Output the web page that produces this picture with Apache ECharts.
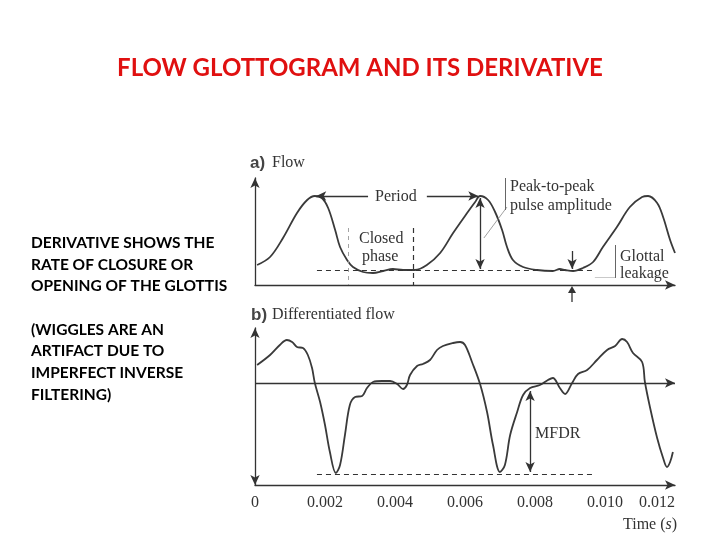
<!DOCTYPE html>
<html>
<head>
<meta charset="utf-8">
<script src="https://cdn.jsdelivr.net/npm/echarts@6/dist/echarts.min.js"></script>
<style>html,body{margin:0;padding:0;background:#fff;}#c{width:720px;height:540px;}</style>
</head>
<body>
<div id="c"></div>
<script>
// ---- data (time in seconds, amplitudes in arbitrary units) ----
const flowTime = [0.00006,0.00043,0.00080,0.00120,0.00149,0.00171,0.00191,0.00209,0.00229,0.00243,0.00263,0.00280,0.00309,0.00337,0.00366,0.00394,0.00423,0.00457,0.00491,0.00529,0.00566,0.00606,0.00629,0.00643,0.00666,0.00686,0.00706,0.00720,0.00737,0.00766,0.00806,0.00851,0.00871,0.00886,0.00909,0.00937,0.00966,0.00994,0.01034,0.01071,0.01106,0.01123,0.01149,0.01166,0.01186,0.01200];
const flowValue = [20,28,47,72,85,89,87,77,55,38,25,18,13,12,14,16,15,15,20,32,52,72,83,89,85,73,55,38,25,18,15,14,16,15,14,17,23,38,58,78,88,89,82,68,45,32];

const diffTime = [0.00006,0.00043,0.00071,0.00091,0.00106,0.00120,0.00137,0.00151,0.00163,0.00171,0.00186,0.00200,0.00214,0.00231,0.00243,0.00257,0.00271,0.00286,0.00306,0.00320,0.00337,0.00363,0.00386,0.00406,0.00423,0.00434,0.00443,0.00463,0.00480,0.00500,0.00520,0.00537,0.00566,0.00586,0.00600,0.00620,0.00643,0.00663,0.00680,0.00700,0.00714,0.00729,0.00749,0.00766,0.00786,0.00814,0.00837,0.00851,0.00871,0.00886,0.00906,0.00923,0.00949,0.00977,0.01006,0.01029,0.01049,0.01063,0.01080,0.01106,0.01114,0.01129,0.01149,0.01166,0.01177,0.01186,0.01194];
const diffValue = [18,28,38,43,41,36,35,28,15,0,-19,-42,-69,-90,-82,-52,-22,-14,-13,-5,1,2,2,-1,-6,-2,8,17,19,23,33,37,40,41,38,21,-1,-29,-62,-89,-82,-52,-29,-12,-5,-2,3,5,-5,-11,0,9,13,23,33,37,44,41,30,21,1,-25,-55,-75,-84,-79,-69];

const timeTicks = [0, 0.002, 0.004, 0.006, 0.008, 0.010, 0.012];

const flowPts = flowTime.map((t, i) => [t, flowValue[i]]);
const diffPts = diffTime.map((t, i) => [t, diffValue[i]]);

const INK = '#333';
const SERIF = '"Liberation Serif","DejaVu Serif",serif';
const arrowSz = [7, 10];

function seg(x1, y1, x2, y2, s1, s2, style) {
  return [
    { coord: [x1, y1], symbol: s1, lineStyle: style },
    { coord: [x2, y2], symbol: s2 }
  ];
}
const solid = { color: INK, width: 1.3, type: 'solid' };
const thin = { color: '#888', width: 0.8, type: 'solid' };
const dashed = { color: INK, width: 1.2, type: [5, 4] };
const dashedLight = { color: '#999', width: 0.9, type: [4, 4] };

const chart = echarts.init(document.getElementById('c'));
const txt = (x, y, text, opt) => Object.assign({
  type: 'text', left: x, top: y - 6,
  style: Object.assign({ text: text, fill: INK, font: '16px ' + SERIF, textVerticalAlign: 'middle' }, opt || {})
});

chart.setOption({
  backgroundColor: '#fff',
  animation: false,
  grid: [
    { left: 255, right: 45, top: 178, height: 107 },
    { left: 255, right: 45, top: 328, height: 157 }
  ],
  xAxis: [
    { gridIndex: 0, type: 'value', min: 0, max: 0.012, interval: 0.002,
      axisLine: { show: true, onZero: false, symbol: ['none', 'arrow'], symbolSize: arrowSz, lineStyle: { color: INK, width: 1.3 } },
      axisTick: { show: false }, axisLabel: { show: false }, splitLine: { show: false } },
    { gridIndex: 1, type: 'value', min: 0, max: 0.012, interval: 0.002,
      axisLine: { show: true, onZero: false, symbol: ['none', 'arrow'], symbolSize: arrowSz, lineStyle: { color: INK, width: 1.3 } },
      axisTick: { show: false }, splitLine: { show: false },
      axisLabel: { show: true, color: INK, fontFamily: SERIF, fontSize: 16, margin: 10, alignMaxLabel: 'right',
        customValues: timeTicks,
        formatter: v => (v === 0 ? '0' : v.toFixed(3)) } }
  ],
  yAxis: [
    { gridIndex: 0, type: 'value', min: 0, max: 107,
      axisLine: { show: true, onZero: false, symbol: ['none', 'arrow'], symbolSize: arrowSz, lineStyle: { color: INK, width: 1.3 } },
      axisTick: { show: false }, axisLabel: { show: false }, splitLine: { show: false } },
    { gridIndex: 1, type: 'value', min: -102, max: 55,
      axisLine: { show: true, onZero: false, symbol: ['arrow', 'arrow'], symbolSize: arrowSz, lineStyle: { color: INK, width: 1.3 } },
      axisTick: { show: false }, axisLabel: { show: false }, splitLine: { show: false } }
  ],
  series: [
    { type: 'line', xAxisIndex: 0, yAxisIndex: 0, data: flowPts, smooth: 0.35, showSymbol: false,
      lineStyle: { color: '#3a3a3a', width: 1.8 },
      markLine: { silent: true, symbolSize: arrowSz, label: { show: false }, animation: false,
        data: [
          seg(0.00323, 89, 0.00175, 89, 'none', 'arrow', solid),
          seg(0.00491, 89, 0.00638, 89, 'none', 'arrow', solid),
          seg(0.00643, 87, 0.00643, 16, 'arrow', 'arrow', solid),
          seg(0.00177, 15, 0.00971, 15, 'none', 'none', dashed),
          seg(0.00266, 57, 0.00266, 0, 'none', 'none', dashedLight),
          seg(0.00451, 57, 0.00451, 0, 'none', 'none', dashed),
          seg(0.00906, 34, 0.00906, 16, 'none', 'arrow', solid),
          seg(0.00654, 47, 0.00720, 78, 'none', 'none', thin),
          seg(0.00714, 107, 0.00714, 75, 'none', 'none', { color: '#666', width: 1, type: 'solid' }),
          seg(0.01029, 40, 0.01029, 7, 'none', 'none', { color: '#666', width: 1, type: 'solid' }),
          seg(0.00971, 8, 0.01029, 8, 'none', 'none', { color: '#bbb', width: 0.8, type: 'solid' })
        ] } },
    { type: 'line', xAxisIndex: 1, yAxisIndex: 1, data: diffPts, smooth: 0.35, showSymbol: false,
      lineStyle: { color: '#3a3a3a', width: 1.8 },
      markLine: { silent: true, symbolSize: arrowSz, label: { show: false }, animation: false,
        data: [
          [{ coord: [0, 0], symbol: 'none', lineStyle: solid }, { coord: [0.012, 0], symbol: 'arrow' }],
          seg(0.00786, -8, 0.00786, -89, 'arrow', 'arrow', solid),
          seg(0.00177, -91, 0.00971, -91, 'none', 'none', dashed)
        ] } }
  ],
  graphic: [
    { type: 'text', left: 'center', top: 56, style: { text: 'FLOW GLOTTOGRAM AND ITS DERIVATIVE', fill: '#e01010', font: 'bold 24px Lato, "Open Sans", sans-serif' } },
    { type: 'text', left: 31, top: 232, style: { text: 'DERIVATIVE SHOWS THE\nRATE OF CLOSURE OR\nOPENING OF THE GLOTTIS\n\n(WIGGLES ARE AN\nARTIFACT DUE TO\nIMPERFECT INVERSE\nFILTERING)', fill: '#000', font: 'bold 15.5px Lato, "Open Sans", sans-serif', lineHeight: 21.7 } },
    txt(250, 161, 'a)', { font: 'bold 17px "Liberation Sans", sans-serif', fill: '#444' }),
    txt(272, 161, 'Flow'),
    txt(375, 195, 'Period'),
    txt(510, 185, 'Peak-to-peak'),
    txt(510, 204, 'pulse amplitude'),
    txt(359, 237, 'Closed'),
    txt(362, 255, 'phase'),
    txt(620, 255, 'Glottal'),
    txt(620, 272, 'leakage'),
    txt(251, 313, 'b)', { font: 'bold 17px "Liberation Sans", sans-serif', fill: '#444' }),
    txt(272, 313, 'Differentiated flow'),
    txt(535, 432, 'MFDR'),
    { type: 'line', shape: { x1: 572, y1: 302, x2: 572, y2: 292 }, style: { stroke: INK, lineWidth: 1.3 } },
    { type: 'polygon', shape: { points: [[568, 293], [576, 293], [572, 286]] }, style: { fill: INK } },
    { type: 'text', left: 623, top: 517, style: { text: '{a|Time (}{b|s}{a|)}', textVerticalAlign: 'middle',
      rich: { a: { font: '16px ' + SERIF, fill: INK }, b: { font: 'italic 16px ' + SERIF, fill: INK } } } }
  ]
});
</script>
</body>
</html>
